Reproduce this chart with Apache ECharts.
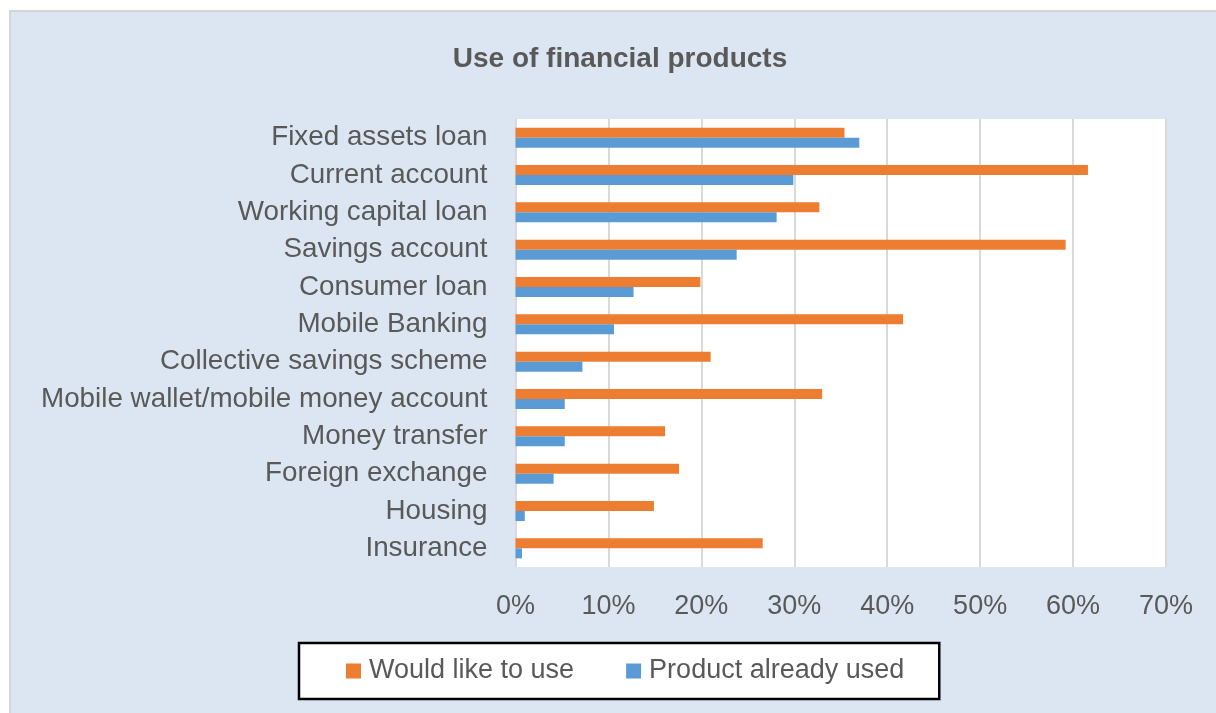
<!DOCTYPE html>
<html>
<head>
<meta charset="utf-8">
<script src="https://cdn.jsdelivr.net/npm/echarts@6/dist/echarts.min.js"></script>
<style>
  html, body { margin: 0; padding: 0; background: #ffffff; }
  #frame {
    position: absolute; left: 9px; top: 10px; right: 0; bottom: 0;
    background: #dce6f2;
    border-left: 2px solid #d6d6d6; border-top: 2px solid #d6d6d6;
  }
  #chart { position: absolute; left: 0; top: 0; width: 1216px; height: 713px; }
</style>
</head>
<body>
<div id="frame"></div>
<div id="chart"></div>
<script>
// Financial products, listed top to bottom
const categories = [
  'Fixed assets loan',
  'Current account',
  'Working capital loan',
  'Savings account',
  'Consumer loan',
  'Mobile Banking',
  'Collective savings scheme',
  'Mobile wallet/mobile money account',
  'Money transfer',
  'Foreign exchange',
  'Housing',
  'Insurance'
];

// Share of respondents (%)
const wouldLikeToUse = [35.4, 61.6, 32.7, 59.2, 19.9, 41.7, 21.0, 33.0, 16.1, 17.6, 14.9, 26.6];
const alreadyUsed    = [37.0, 29.9, 28.1, 23.8, 12.7, 10.6, 7.2, 5.3, 5.3, 4.1, 1.0, 0.7];

const xTicks = { min: 0, max: 70, interval: 10 };

const FONT = '"Liberation Sans", Arial, sans-serif';
const GREY = '#595959';

const chart = echarts.init(document.getElementById('chart'), null, { renderer: 'canvas' });

chart.setOption({
  backgroundColor: 'transparent',
  animation: false,
  title: {
    text: 'Use of financial products',
    left: 615,
    top: 40,
    textAlign: 'center',
    textStyle: { fontFamily: FONT, fontSize: 28, fontWeight: 'bold', color: GREY }
  },
  legend: {
    left: 299,
    top: 643,
    orient: 'horizontal',
    backgroundColor: '#ffffff',
    borderColor: '#000000',
    borderWidth: 2.5,
    borderRadius: 0,
    padding: [13, 35, 13, 47],
    itemWidth: 15,
    itemHeight: 15,
    itemGap: 52,
    icon: 'rect',
    textStyle: { fontFamily: FONT, fontSize: 27, color: GREY, lineHeight: 30, padding: [0, 0, 0, 3] },
    data: ['Would like to use', 'Product already used']
  },
  grid: {
    left: 515.5,
    right: 50,
    top: 119,
    bottom: 146,
    show: true,
    backgroundColor: '#ffffff',
    borderWidth: 0,
    containLabel: false
  },
  xAxis: {
    type: 'value',
    min: xTicks.min,
    max: xTicks.max,
    interval: xTicks.interval,
    axisLine: { show: false },
    axisTick: { show: false },
    splitLine: { show: true, lineStyle: { color: '#d9d9d9', width: 2 } },
    axisLabel: {
      margin: 26,
      fontFamily: FONT,
      fontSize: 27,
      color: GREY,
      formatter: v => v + '%'
    }
  },
  yAxis: {
    type: 'category',
    inverse: true,
    data: categories,
    axisLine: { show: false },
    axisTick: { show: false },
    axisLabel: {
      margin: 28,
      fontFamily: FONT,
      fontSize: 27.8,
      color: GREY
    }
  },
  series: [
    {
      name: 'Would like to use',
      type: 'bar',
      data: wouldLikeToUse,
      barWidth: 10,
      barGap: '0%',
      itemStyle: { color: '#ed7d31' }
    },
    {
      name: 'Product already used',
      type: 'bar',
      data: alreadyUsed,
      barWidth: 10,
      barGap: '0%',
      itemStyle: { color: '#5b9bd5' }
    }
  ]
});
</script>
</body>
</html>
